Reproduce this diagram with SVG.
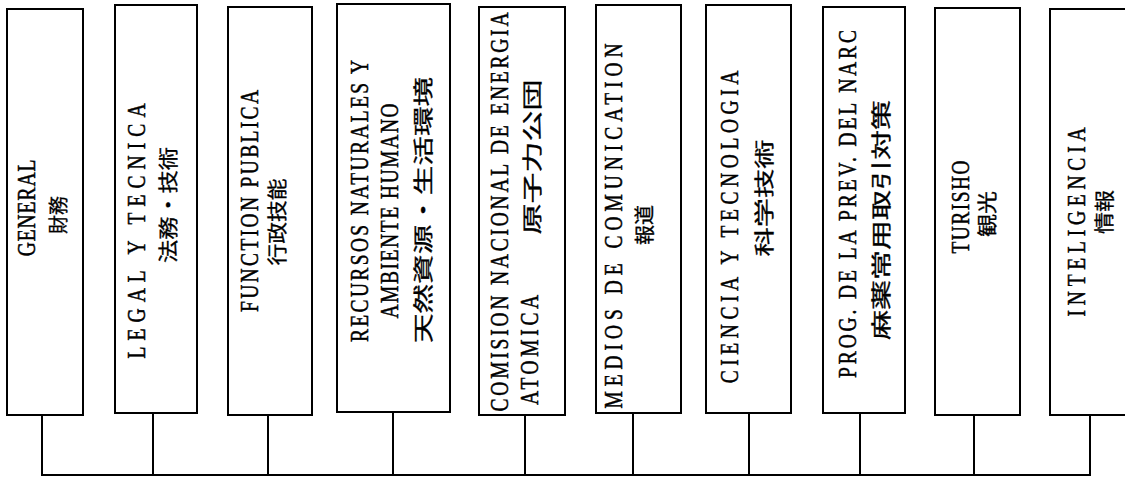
<svg xmlns="http://www.w3.org/2000/svg" width="1125" height="478" viewBox="0 0 1125 478">
<style>
.box{fill:#fff;stroke:#000;stroke-width:2}
.lat{font-family:"Liberation Serif","Noto Sans CJK JP",serif;font-size:26px;fill:#000;stroke:#000;stroke-width:0.5;dominant-baseline:central;text-anchor:middle}
.cjk{font-family:"Noto Sans CJK JP",sans-serif;font-size:20px;fill:#000;stroke:#000;stroke-width:0.3;dominant-baseline:central;text-anchor:middle}
.con{fill:none;stroke:#000;stroke-width:2}
</style>
<rect width="1125" height="478" fill="#fff"/>
<g id="connectors">
<path class="con" d="M42 416V475M153 413V475M268 415V475M393 412V475M525 415V475M633 413V475M749 413V475M860 413V475M974 415V475M1090 415V475M41 475H1091"/>
</g>
<g id="n1">
<rect class="box" x="7" y="9" width="76" height="406"/>
<text class="lat" transform="translate(27,208) rotate(-90) scale(0.75,1)" textLength="129">GENERAL</text>
<text class="cjk" transform="translate(57,215) rotate(-90)" textLength="38" lengthAdjust="spacingAndGlyphs">財務</text>
</g>
<g id="n2">
<rect class="box" x="115" y="5" width="82" height="408"/>
<text class="lat" transform="translate(137,231) rotate(-90) scale(0.75,1)" textLength="340">LEGAL Y TECNICA</text>
<text class="cjk" transform="translate(167,205) rotate(-90)" textLength="116" lengthAdjust="spacingAndGlyphs">法務・技術</text>
</g>
<g id="n3">
<rect class="box" x="228" y="7" width="84" height="408"/>
<text class="lat" transform="translate(250,201) rotate(-90) scale(0.75,1)" textLength="296">FUNCTION PUBLICA</text>
<text class="cjk" transform="translate(276,222) rotate(-90)" textLength="87" lengthAdjust="spacingAndGlyphs">行政技能</text>
</g>
<g id="n4">
<rect class="box" x="337" y="4" width="113" height="408"/>
<text class="lat" transform="translate(360,201) rotate(-90) scale(0.75,1)" textLength="376">RECURSOS NATURALES Y</text>
<text class="lat" transform="translate(390,211) rotate(-90) scale(0.75,1)" textLength="287">AMBIENTE HUMANO</text>
<text class="cjk" transform="translate(422,210) rotate(-90)" textLength="266" lengthAdjust="spacingAndGlyphs">天然資源・生活環境</text>
</g>
<g id="n5">
<rect class="box" x="479" y="7" width="86" height="408"/>
<text class="lat" transform="translate(500,212) rotate(-90) scale(0.75,1)" textLength="532">COMISION NACIONAL DE ENERGIA</text>
<text class="lat" transform="translate(530,350) rotate(-90) scale(0.75,1)" textLength="147">ATOMICA</text>
<text class="cjk" transform="translate(531,157) rotate(-90)" textLength="155" lengthAdjust="spacingAndGlyphs">原子力公団</text>
</g>
<g id="n6">
<rect class="box" x="596" y="5" width="85" height="408"/>
<text class="lat" transform="translate(614,226) rotate(-90) scale(0.75,1)" textLength="487">MEDIOS DE COMUNICATION</text>
<text class="cjk" transform="translate(643,225) rotate(-90)" textLength="40" lengthAdjust="spacingAndGlyphs">報道</text>
</g>
<g id="n7">
<rect class="box" x="706" y="5" width="85" height="408"/>
<text class="lat" transform="translate(730,227) rotate(-90) scale(0.75,1)" textLength="417">CIENCIA Y TECNOLOGIA</text>
<text class="cjk" transform="translate(763,198) rotate(-90)" textLength="117" lengthAdjust="spacingAndGlyphs">科学技術</text>
</g>
<g id="n8">
<rect class="box" x="823" y="7" width="82" height="406"/>
<text class="lat" transform="translate(848,204) rotate(-90) scale(0.75,1)" textLength="464">PROG. DE LA PREV. DEL NARC</text>
<text class="cjk" transform="translate(880,220) rotate(-90)" textLength="240" lengthAdjust="spacingAndGlyphs">麻薬常用取引対策</text>
</g>
<g id="n9">
<rect class="box" x="935" y="8" width="85" height="407"/>
<text class="lat" transform="translate(961,207) rotate(-90) scale(0.75,1)" textLength="124">TURISHO</text>
<text class="cjk" transform="translate(986,214) rotate(-90)" textLength="46" lengthAdjust="spacingAndGlyphs">観光</text>
</g>
<g id="n10">
<rect class="box" x="1050" y="9" width="90" height="406"/>
<text class="lat" transform="translate(1077,222) rotate(-90) scale(0.75,1)" textLength="252">INTELIGENCIA</text>
<text class="cjk" transform="translate(1103,212) rotate(-90)" textLength="44" lengthAdjust="spacingAndGlyphs">情報</text>
</g>
</svg>
